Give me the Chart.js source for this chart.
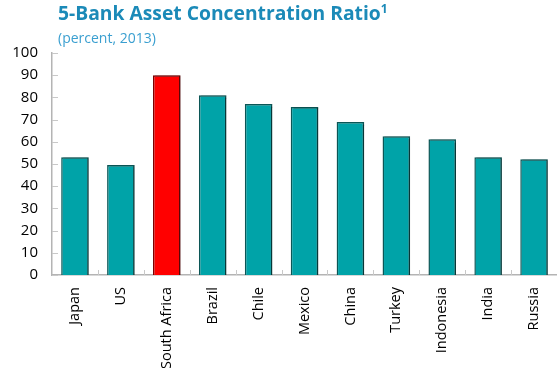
<!DOCTYPE html>
<html>
<head>
<meta charset="utf-8">
<script src="https://cdn.jsdelivr.net/npm/chart.js@4"></script>
<style>
  body { margin: 0; background: #fff; font-family: "Open Sans", sans-serif; }
  .wrap { position: relative; width: 557px; height: 368px; }
  .title { position: absolute; left: 58px; top: -1px; font-size: 19.3px; font-weight: bold; color: #1b8ab8; }
  .title sup { font-size: 12px; }
  .sub { position: absolute; left: 58px; top: 28px; font-size: 14px; color: #3a9fd0; }
  canvas { position: absolute; left: 0; top: 0; }
</style>
</head>
<body>
<div class="wrap">
  <canvas id="myChart" width="557" height="368"></canvas>
  <div class="title">5-Bank Asset Concentration Ratio<sup>1</sup></div>
  <div class="sub">(percent, 2013)</div>
</div>
<script>
let countries = ["Japan", "US", "South Africa", "Brazil", "Chile", "Mexico", "China", "Turkey", "Indonesia", "India", "Russia"];
let ratios = [53, 49.5, 90, 81, 77, 75.7, 68.9, 62.5, 61.1, 53, 52.1];
let highlight = "South Africa";

let fills = countries.map((c) => (c === highlight ? "#ff0000" : "#00a3a8"));
let edges = countries.map((c) => (c === highlight ? "#7a0000" : "#0b5656"));

// little inward ticks on both axes, like the original
let innerTicks = {
  id: "innerTicks",
  afterDraw(chart) {
    let { ctx, scales } = chart;
    let x = scales.x, y = scales.y;
    ctx.save();
    ctx.strokeStyle = "#c8c8c8";
    ctx.lineWidth = 1;
    y.ticks.forEach((t) => {
      let py = Math.round(y.getPixelForValue(t.value)) + 0.5;
      ctx.beginPath();
      ctx.moveTo(x.left, py);
      ctx.lineTo(x.left + 6, py);
      ctx.stroke();
    });
    for (let i = 1; i < countries.length; i++) {
      let px = Math.round((x.getPixelForValue(i - 1) + x.getPixelForValue(i)) / 2) + 0.5;
      ctx.beginPath();
      ctx.moveTo(px, y.bottom);
      ctx.lineTo(px, y.bottom - 5);
      ctx.stroke();
    }
    ctx.restore();
  }
};

let shadow = {
  id: "shadow",
  beforeDatasetsDraw(chart) {
    let ctx = chart.ctx;
    ctx.save();
    ctx.shadowColor = "rgba(0,0,0,0.35)";
    ctx.shadowOffsetX = 2;
    ctx.shadowOffsetY = 0;
    ctx.shadowBlur = 1;
  },
  afterDatasetsDraw(chart) {
    chart.ctx.restore();
  }
};

const ctx = document.getElementById("myChart");

new Chart(ctx, {
  type: "bar",
  data: {
    labels: countries,
    datasets: [{
      data: ratios,
      backgroundColor: fills,
      borderColor: edges,
      borderWidth: 1.5,
      barPercentage: 0.6,
      categoryPercentage: 1
    }]
  },
  options: {
    responsive: false,
    animation: false,
    layout: { padding: { top: 53, right: 0, left: 0, bottom: 0 } },
    plugins: { legend: { display: false }, tooltip: { enabled: false } },
    scales: {
      x: {
        grid: { display: false },
        border: { color: "#b4b4b4", width: 1.5 },
        afterFit: (scale) => { scale.height = 93; },
        ticks: {
          color: "#000",
          font: { family: "Open Sans", size: 14.5 },
          minRotation: 90,
          maxRotation: 90,
          padding: 4
        }
      },
      y: {
        min: 0,
        max: 100,
        grid: { display: false },
        border: { color: "#b4b4b4", width: 1.5 },
        afterFit: (scale) => { scale.width = 52; },
        ticks: {
          stepSize: 10,
          color: "#000",
          font: { family: "Open Sans", size: 15 },
          padding: 6
        }
      }
    }
  },
  plugins: [shadow, innerTicks]
});
</script>
</body>
</html>
